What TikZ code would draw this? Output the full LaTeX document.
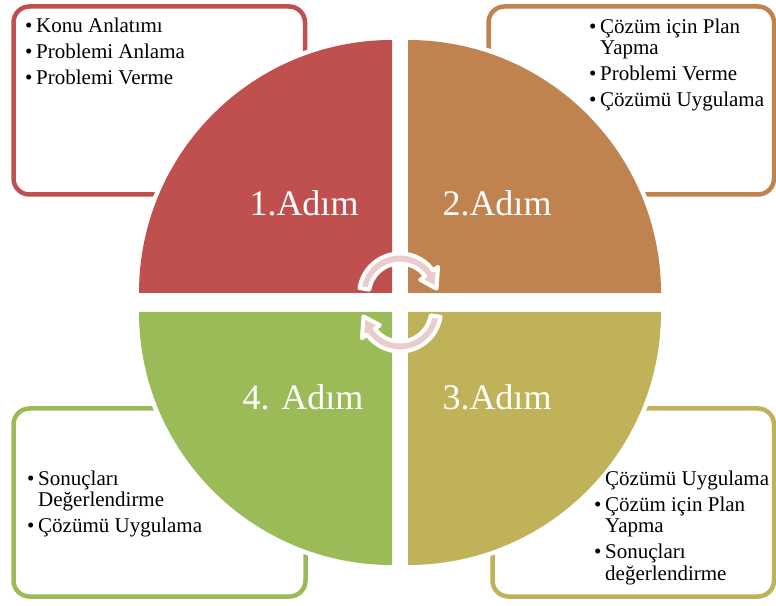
\documentclass[tikz,border=0pt]{standalone}
\usepackage{fontspec}
\setmainfont{Liberation Serif}
\usepackage{tikz}
\definecolor{stepRed}{RGB}{192,80,77}
\definecolor{stepOrange}{RGB}{192,131,80}
\definecolor{stepOlive}{RGB}{192,178,88}
\definecolor{stepGreen}{RGB}{155,187,89}
\definecolor{arrowPink}{RGB}{234,204,204}
\newcommand{\itm}{\makebox[11pt][l]{\textbullet}}
\newcommand{\cnt}{\hspace*{11pt}}

\begin{document}
\begin{tikzpicture}[x=1pt, y=1pt]
        \tikzstyle{boxStyle} = [line width=4.5pt, rounded corners=16pt]
        \tikzstyle{quarterStyle} = [preaction={draw=white, line width=9pt}]
        \tikzstyle{stepLabel} = [anchor=base, text=white, inner sep=0pt,
                font=\fontsize{36}{40}\selectfont]
        \tikzstyle{listText} = [anchor=north west, inner sep=0pt, align=left,
                font=\fontsize{21}{21.5}\selectfont]
        \tikzstyle{cycleArrow} = [fill=arrowPink, draw=white, line width=4pt,
                line join=round]
        \useasboundingbox (0,0) rectangle (776,605);
        % boxes behind the circle
        \draw[boxStyle, stepRed] (13.5,410.5) rectangle (305,598.5);
        \draw[boxStyle, stepOrange] (488.5,410.5) rectangle (774,598.5);
        \draw[boxStyle, stepGreen] (13.5,8.5) rectangle (305.5,196.5);
        \draw[boxStyle, stepOlive] (492.5,8.5) rectangle (774,196.5);
        % four quarters
        \fill[quarterStyle, stepRed] (392,312) -- ++(-253,0) arc (180:90:253) -- cycle;
        \fill[quarterStyle, stepOrange] (408,312) -- ++(0,253) arc (90:0:253) -- cycle;
        \fill[quarterStyle, stepOlive] (408,293) -- ++(253,0) arc (0:-90:253) -- cycle;
        \fill[quarterStyle, stepGreen] (392,293) -- ++(0,-253) arc (270:180:253) -- cycle;
        \node[stepLabel] (L1) at (304,389) {1.Adım};
        \node[stepLabel] (L2) at (497,389) {2.Adım};
        \node[stepLabel] (L3) at (497,195) {3.Adım};
        \node[stepLabel] (L4) at (303,195) {4. Adım};
        % arrows in the middle
        \begin{scope}[shift={(400,310.5)}]
            \path[cycleArrow] (171:41) arc (171:36:41) -- (36:47) -- (9:37)
                -- (36:25) -- (36:31) arc (36:171:31) -- cycle;
        \end{scope}
        \begin{scope}[shift={(400,294.5)}, rotate=180]
            \path[cycleArrow] (171:41) arc (171:36:41) -- (36:47) -- (9:37)
                -- (36:25) -- (36:31) arc (36:171:31) -- cycle;
        \end{scope}
        % lists
        \node[listText] (T1) at (25,586.8) {\itm Konu Anlatımı\\[4.5pt]
                \itm Problemi Anlama\\[4.5pt] \itm Problemi Verme};
        \node[listText] (T2) at (589,586.3) {\itm Çözüm için Plan\\ \cnt Yapma\\[4.5pt]
                \itm Problemi Verme\\[4.5pt] \itm Çözümü Uygulama};
        \node[listText] (T3) at (594,134.3) {\cnt Çözümü Uygulama\\[4.5pt]
                \itm Çözüm için Plan\\ \cnt Yapma\\[4.5pt]
                \itm Sonuçları\\ \cnt değerlendirme};
        \node[listText] (T4) at (27,134.3) {\itm Sonuçları\\ \cnt Değerlendirme\\[4.5pt]
                \itm Çözümü Uygulama};
    \end{tikzpicture}
\end{document}
